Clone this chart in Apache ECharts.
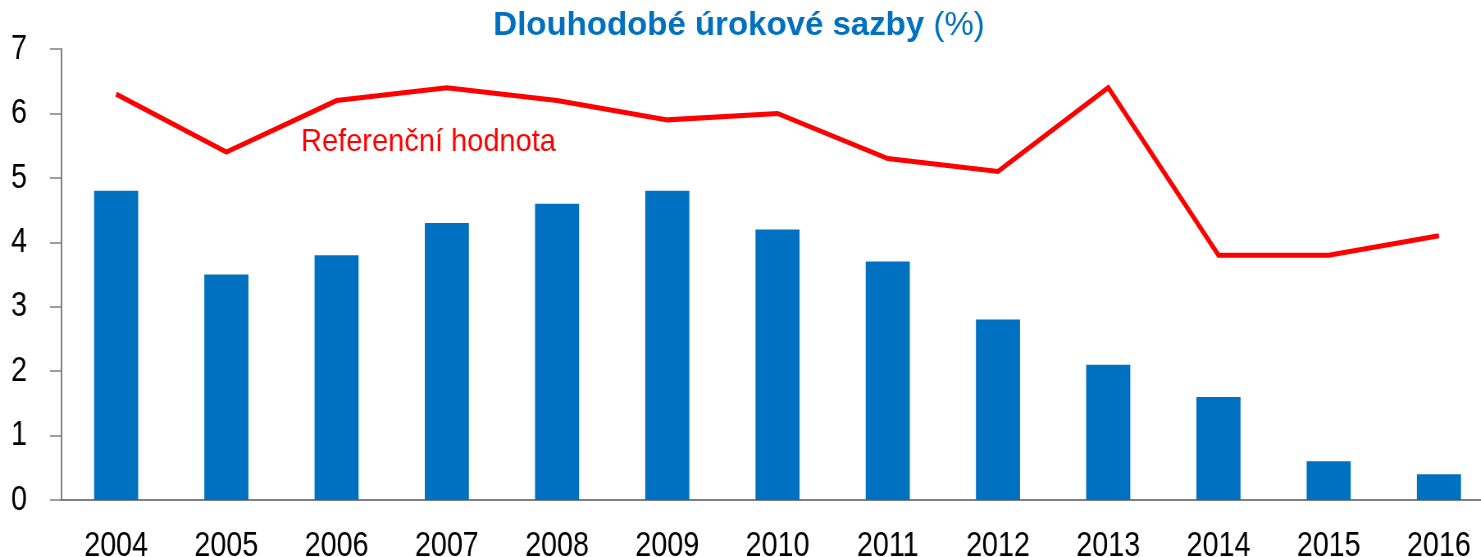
<!DOCTYPE html>
<html>
<head>
<meta charset="utf-8">
<script src="https://cdn.jsdelivr.net/npm/echarts@6/dist/echarts.min.js"></script>
<style>
    html, body { margin: 0; padding: 0; background: #fff; }
    #wrap { position: relative; width: 1481px; height: 557px; overflow: hidden; }
    /* no narrow font installed, so the chart is drawn wider and squeezed back horizontally */
    #chart { position: absolute; left: 0; top: 0; width: 1822px; height: 557px; transform: scaleX(0.82); transform-origin: 0 0; }
</style>
</head>
<body>
<div id="wrap"><div id="chart"></div></div>
<script>
    const years = ['2004', '2005', '2006', '2007', '2008', '2009', '2010', '2011', '2012', '2013', '2014', '2015', '2016'];
    const longTermRates = [4.8, 3.5, 3.8, 4.3, 4.6, 4.8, 4.2, 3.7, 2.8, 2.1, 1.6, 0.6, 0.4];
    const referenceValue = [6.3, 5.4, 6.2, 6.4, 6.2, 5.9, 6.0, 5.3, 5.1, 6.4, 3.8, 3.8, 4.1];

    const squeeze = 0.82;
    const fontMain = '"Liberation Sans", Arial, sans-serif';
    const blue = '#0070C0';
    const red = '#FF0000';
    const axisGray = '#808080';

    const chart = echarts.init(document.getElementById('chart'));
    chart.setOption({
        backgroundColor: '#ffffff',
        animation: false,
        grid: {
            left: 61 / squeeze, right: 0, top: 49, bottom: 57,
            containLabel: false,
            outerBoundsMode: 'none'
        },
        xAxis: {
            type: 'category',
            data: years,
            axisLine: { lineStyle: { color: axisGray, width: 2 } },
            axisTick: { show: false },
            axisLabel: { color: '#000', fontFamily: fontMain, fontSize: 35, margin: 29 }
        },
        yAxis: {
            type: 'value',
            min: 0,
            max: 7,
            interval: 1,
            axisLine: { show: true, lineStyle: { color: axisGray, width: 2 } },
            axisTick: { show: true, inside: false, length: 11 / squeeze, lineStyle: { color: axisGray, width: 1.5 } },
            splitLine: { show: false },
            axisLabel: { color: '#000', fontFamily: fontMain, fontSize: 35, margin: 34 / squeeze }
        },
        series: [
            {
                name: 'Dlouhodobé úrokové sazby',
                type: 'bar',
                data: longTermRates,
                barWidth: '40%',
                itemStyle: { color: blue }
            },
            {
                name: 'Referenční hodnota',
                type: 'line',
                data: referenceValue,
                symbol: 'none',
                lineStyle: { color: red, width: 5, join: 'miter' }
            }
        ],
        graphic: [
            {
                // chart title, unsqueezed
                type: 'text',
                x: 739 / squeeze,
                y: 9,
                scaleX: 1 / squeeze,
                style: {
                    text: '{b|Dlouhodobé úrokové sazby }{n|(%)}',
                    textAlign: 'center',
                    textVerticalAlign: 'top',
                    rich: {
                        b: { font: 'bold 33px ' + fontMain, fill: blue },
                        n: { font: '33px ' + fontMain, fill: blue }
                    }
                }
            },
            {
                type: 'text',
                x: 301 / squeeze,
                y: 126,
                scaleX: 0.907 / squeeze,
                style: {
                    text: 'Referenční hodnota',
                    fill: red,
                    font: '32px ' + fontMain,
                    textVerticalAlign: 'top'
                }
            }
        ]
    });
</script>
</body>
</html>
